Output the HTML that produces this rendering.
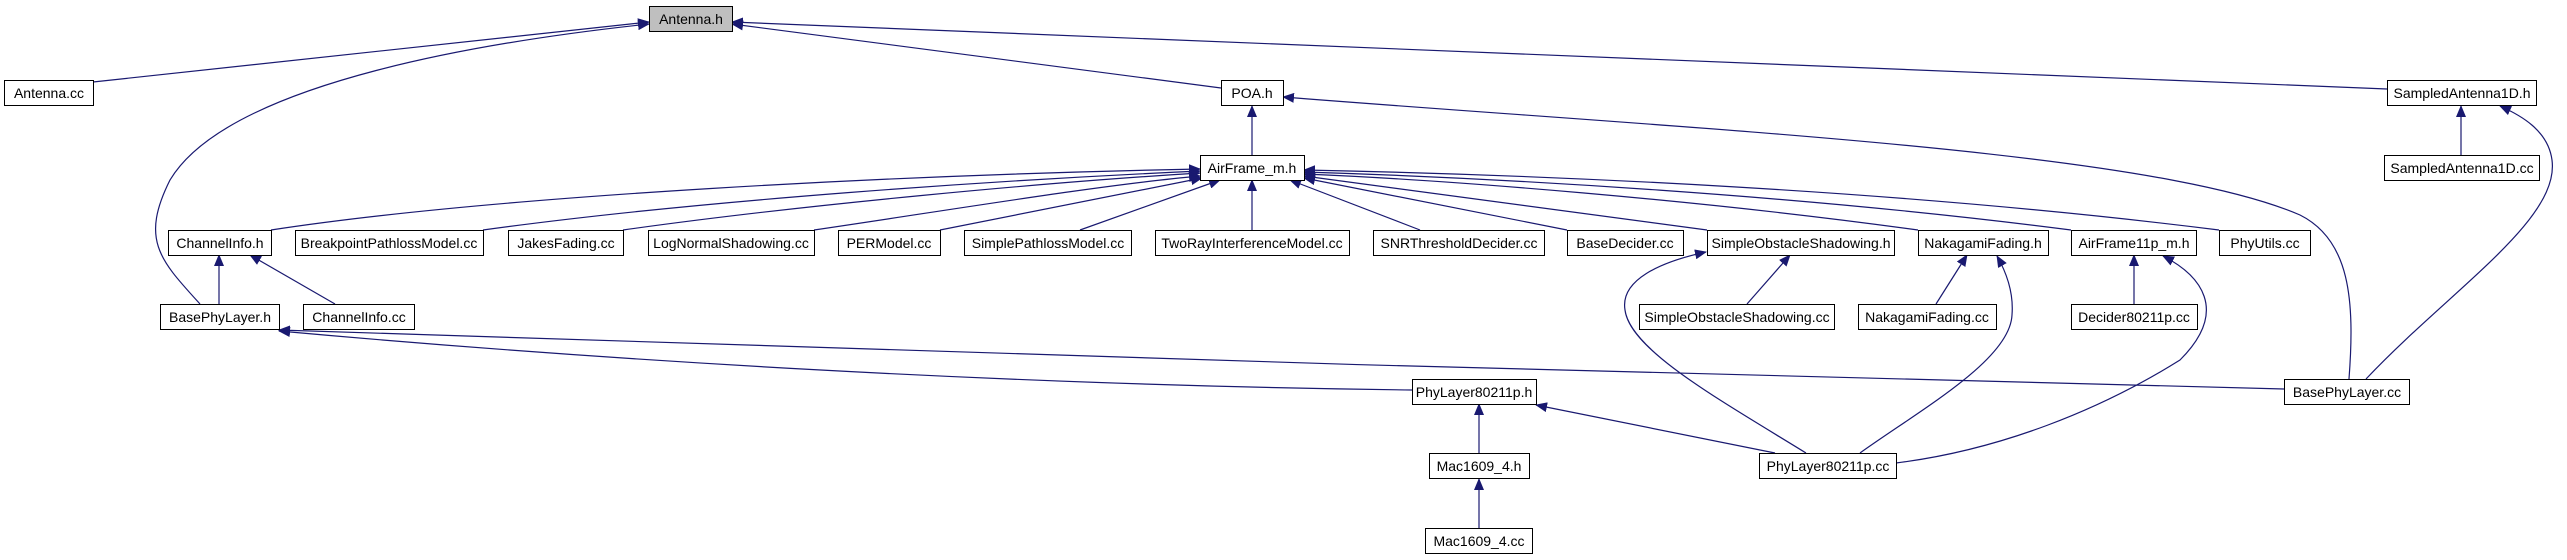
<!DOCTYPE html>
<html><head><meta charset="utf-8"><style>
html,body{margin:0;padding:0;background:#fff;}
svg{display:block;}
text{font-family:"Liberation Sans",sans-serif;font-size:14px;fill:#000;}
</style></head><body>
<svg width="2567" height="560" viewBox="0 0 2567 560" xmlns="http://www.w3.org/2000/svg">
<defs>
<marker id="a" markerWidth="12" markerHeight="10" refX="11" refY="5" orient="auto" markerUnits="userSpaceOnUse">
<path d="M0,0 L12,5 L0,10 Z" fill="#191970"/>
</marker>
</defs>
<g fill="none" stroke="#191970" stroke-width="1.2" marker-end="url(#a)">
<path d="M93,82 L649,22"/>
<path d="M200,304 C160,260 140,240 170,180 C230,80 500,40 649,24"/>
<path d="M1221,88 L732,24"/>
<path d="M2387,89 L732,22"/>
<path d="M1252,155 L1252,106"/>
<path d="M2349,379 C2355,300 2350,240 2300,215 C2150,150 1700,130 1283,97"/>
<path d="M2366,379 C2450,290 2560,220 2552,160 C2548,130 2520,115 2500,106"/>
<path d="M2461,155 L2461,106"/>
<path d="M271,230 C500,195 900,175 1200,169"/>
<path d="M483,230 C700,200 1000,180 1200,171"/>
<path d="M623,230 C800,205 1050,182 1200,173"/>
<path d="M814,230 C950,210 1100,185 1200,176"/>
<path d="M940,230 L1202,178"/>
<path d="M1080,230 L1220,180"/>
<path d="M1252,230 L1252,180"/>
<path d="M1420,230 L1290,180"/>
<path d="M1567,230 L1304,178"/>
<path d="M1707,230 L1304,176"/>
<path d="M1918,230 C1700,200 1450,180 1304,174"/>
<path d="M2071,230 C1800,195 1500,178 1304,172"/>
<path d="M2219,230 C1900,190 1550,175 1304,170"/>
<path d="M219,304 L219,255"/>
<path d="M335,304 L250,255"/>
<path d="M1747,304 L1790,255"/>
<path d="M1936,304 L1967,255"/>
<path d="M2134,304 L2134,255"/>
<path d="M1806,453 C1720,400 1630,350 1625,310 C1620,280 1660,262 1706,252"/>
<path d="M1860,453 C1920,410 2010,360 2012,315 C2014,290 2005,270 1997,256"/>
<path d="M1896,463 C2000,450 2100,410 2180,360 C2230,310 2200,275 2163,256"/>
<path d="M1775,453 L1536,405"/>
<path d="M1479,453 L1479,404"/>
<path d="M1479,528 L1479,479"/>
<path d="M1412,390 C1000,385 600,360 279,331"/>
<path d="M2284,389 C1700,375 800,350 279,330"/>
</g>
<g stroke="#000" stroke-width="1" fill="#fff">
<rect x="649.5" y="6.5" width="83" height="25" fill="#bfbfbf"/>
<rect x="4.5" y="80.5" width="89" height="25"/>
<rect x="1221.5" y="80.5" width="62" height="25"/>
<rect x="2387.5" y="80.5" width="149" height="25"/>
<rect x="1200.5" y="155.5" width="104" height="25"/>
<rect x="2384.5" y="155.5" width="155" height="25"/>
<rect x="168.5" y="230.5" width="103" height="25"/>
<rect x="295.5" y="230.5" width="188" height="25"/>
<rect x="508.5" y="230.5" width="115" height="25"/>
<rect x="648.5" y="230.5" width="166" height="25"/>
<rect x="838.5" y="230.5" width="102" height="25"/>
<rect x="964.5" y="230.5" width="167" height="25"/>
<rect x="1155.5" y="230.5" width="194" height="25"/>
<rect x="1373.5" y="230.5" width="171" height="25"/>
<rect x="1567.5" y="230.5" width="116" height="25"/>
<rect x="1707.5" y="230.5" width="187" height="25"/>
<rect x="1918.5" y="230.5" width="130" height="25"/>
<rect x="2071.5" y="230.5" width="125" height="25"/>
<rect x="2219.5" y="230.5" width="91" height="25"/>
<rect x="160.5" y="304.5" width="119" height="25"/>
<rect x="303.5" y="304.5" width="111" height="25"/>
<rect x="1639.5" y="304.5" width="195" height="25"/>
<rect x="1858.5" y="304.5" width="138" height="25"/>
<rect x="2071.5" y="304.5" width="126" height="25"/>
<rect x="1412.5" y="379.5" width="124" height="25"/>
<rect x="2284.5" y="379.5" width="125" height="25"/>
<rect x="1429.5" y="453.5" width="100" height="25"/>
<rect x="1759.5" y="453.5" width="137" height="25"/>
<rect x="1425.5" y="528.5" width="107" height="25"/>
</g>
<g text-anchor="middle">
<text x="691" y="24">Antenna.h</text>
<text x="49" y="98">Antenna.cc</text>
<text x="1252" y="98">POA.h</text>
<text x="2462" y="98">SampledAntenna1D.h</text>
<text x="1252" y="173">AirFrame_m.h</text>
<text x="2462" y="173">SampledAntenna1D.cc</text>
<text x="220" y="248">ChannelInfo.h</text>
<text x="389" y="248">BreakpointPathlossModel.cc</text>
<text x="566" y="248">JakesFading.cc</text>
<text x="731" y="248">LogNormalShadowing.cc</text>
<text x="889" y="248">PERModel.cc</text>
<text x="1048" y="248">SimplePathlossModel.cc</text>
<text x="1252" y="248">TwoRayInterferenceModel.cc</text>
<text x="1459" y="248">SNRThresholdDecider.cc</text>
<text x="1625" y="248">BaseDecider.cc</text>
<text x="1801" y="248">SimpleObstacleShadowing.h</text>
<text x="1983" y="248">NakagamiFading.h</text>
<text x="2134" y="248">AirFrame11p_m.h</text>
<text x="2265" y="248">PhyUtils.cc</text>
<text x="220" y="322">BasePhyLayer.h</text>
<text x="359" y="322">ChannelInfo.cc</text>
<text x="1737" y="322">SimpleObstacleShadowing.cc</text>
<text x="1927" y="322">NakagamiFading.cc</text>
<text x="2134" y="322">Decider80211p.cc</text>
<text x="1474" y="397">PhyLayer80211p.h</text>
<text x="2347" y="397">BasePhyLayer.cc</text>
<text x="1479" y="471">Mac1609_4.h</text>
<text x="1828" y="471">PhyLayer80211p.cc</text>
<text x="1479" y="546">Mac1609_4.cc</text>
</g>
</svg>
</body></html>
